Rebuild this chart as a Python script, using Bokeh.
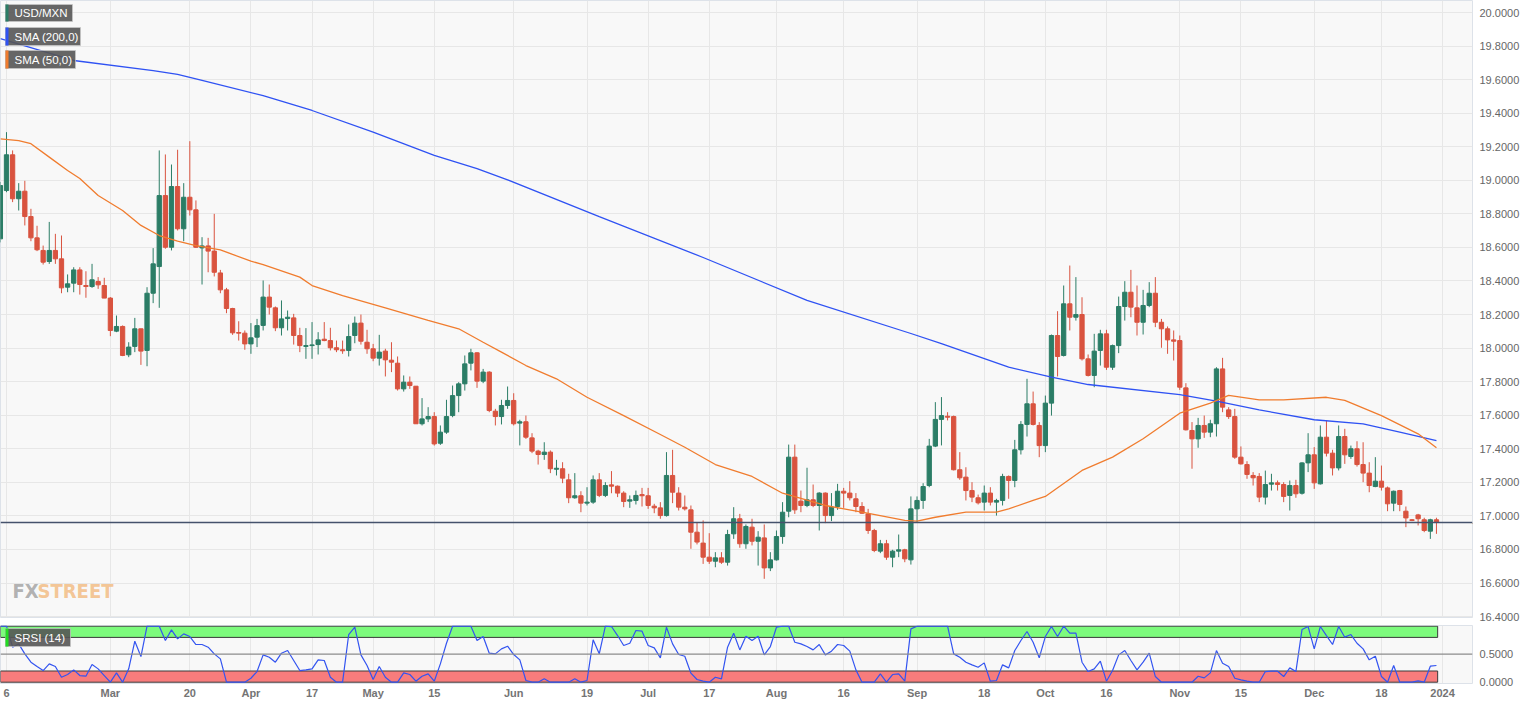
from bokeh.plotting import figure
from bokeh.layouts import column
from bokeh.models import (Range1d, FixedTicker, Span, Label, BoxAnnotation,
                          ColumnDataSource, NumeralTickFormatter)
from bokeh.embed import file_html
from bokeh.resources import INLINE

# ---------------- data (index 0 = Feb 6 2023, one slot per weekday) ----------------
FIRST_INDEX = -1
opens = [
    18.651, 18.939, 19.152, 18.890, 18.935, 18.784, 18.657, 18.582, 18.516, 18.582,
    18.532, 18.363, 18.387, 18.466, 18.373, 18.367, 18.397, 18.373, 18.298, 18.101,
    18.129, 17.960, 18.010, 18.115, 17.986, 18.327, 18.486, 18.909, 18.601, 18.963,
    18.711, 18.899, 18.824, 18.597, 18.609, 18.578, 18.448, 18.347, 18.236, 18.093,
    18.089, 18.025, 18.065, 18.135, 18.304, 18.240, 18.121, 18.176, 18.180, 18.075,
    18.010, 18.015, 18.021, 18.053, 18.045, 18.002, 17.990, 17.986, 18.075, 18.149,
    18.035, 17.996, 17.940, 17.982, 17.928, 17.910, 17.757, 17.797, 17.773, 17.549,
    17.578, 17.592, 17.433, 17.499, 17.598, 17.717, 17.787, 17.910, 17.972, 17.803,
    17.857, 17.624, 17.592, 17.658, 17.688, 17.553, 17.561, 17.465, 17.386, 17.366,
    17.380, 17.278, 17.281, 17.215, 17.108, 17.120, 17.076, 17.082, 17.215, 17.122,
    17.185, 17.177, 17.136, 17.088, 17.092, 17.127, 17.120, 17.058, 17.048, 17.002,
    17.241, 17.136, 17.052, 17.036, 16.903, 16.838, 16.754, 16.730, 16.750, 16.724,
    16.893, 16.983, 16.834, 16.933, 16.849, 16.869, 16.690, 16.738, 16.877, 17.028,
    17.350, 17.088, 17.062, 17.096, 17.062, 17.136, 17.002, 17.056, 17.147, 17.136,
    17.102, 17.056, 17.012, 16.913, 16.790, 16.834, 16.754, 16.790, 16.798, 16.738,
    17.042, 17.092, 17.181, 17.416, 17.575, 17.594, 17.592, 17.275, 17.231, 17.151,
    17.108, 17.082, 17.136, 17.082, 17.092, 17.235, 17.211, 17.394, 17.545, 17.668,
    17.539, 17.419, 17.672, 18.075, 17.956, 18.264, 18.184, 18.200, 17.936, 17.837,
    17.986, 18.085, 17.886, 18.015, 18.248, 18.333, 18.240, 18.154, 18.254, 18.327,
    18.154, 18.115, 18.049, 18.045, 17.763, 17.509, 17.459, 17.539, 17.499, 17.549,
    17.876, 17.632, 17.592, 17.350, 17.306, 17.241, 17.235, 17.112, 17.189, 17.197,
    17.187, 17.122, 17.181, 17.135, 17.316, 17.364, 17.191, 17.469, 17.374, 17.286,
    17.473, 17.354, 17.400, 17.306, 17.255, 17.175, 17.207, 17.167, 17.076, 17.151,
    17.028, 16.977, 17.006, 16.977, 16.909, 16.977,
]
highs = [
    18.990, 19.287, 19.178, 18.983, 18.997, 18.830, 18.729, 18.611, 18.752, 18.681,
    18.671, 18.439, 18.482, 18.482, 18.458, 18.502, 18.423, 18.419, 18.304, 18.194,
    18.135, 18.035, 18.180, 18.115, 18.363, 18.596, 19.178, 19.154, 19.094, 19.182,
    18.983, 19.233, 18.880, 18.661, 18.657, 18.800, 18.466, 18.359, 18.240, 18.160,
    18.105, 18.149, 18.174, 18.403, 18.379, 18.248, 18.284, 18.224, 18.204, 18.121,
    18.119, 18.155, 18.095, 18.155, 18.121, 18.045, 18.045, 18.141, 18.188, 18.200,
    18.109, 18.025, 18.079, 17.996, 18.035, 17.950, 17.837, 17.831, 17.773, 17.702,
    17.648, 17.618, 17.539, 17.692, 17.777, 17.797, 17.956, 17.996, 17.976, 17.876,
    17.862, 17.638, 17.692, 17.771, 17.731, 17.573, 17.598, 17.493, 17.394, 17.439,
    17.390, 17.334, 17.320, 17.251, 17.255, 17.147, 17.171, 17.241, 17.255, 17.201,
    17.267, 17.181, 17.147, 17.122, 17.151, 17.167, 17.167, 17.072, 17.082, 17.380,
    17.394, 17.171, 17.122, 17.062, 16.963, 16.973, 16.897, 16.784, 16.784, 16.917,
    17.052, 17.012, 16.949, 16.983, 16.909, 16.949, 16.784, 16.913, 17.082, 17.425,
    17.425, 17.151, 17.287, 17.187, 17.141, 17.140, 17.136, 17.191, 17.167, 17.207,
    17.136, 17.082, 17.042, 16.923, 16.857, 16.857, 16.798, 16.889, 16.804, 17.116,
    17.116, 17.195, 17.459, 17.678, 17.708, 17.618, 17.598, 17.380, 17.290, 17.201,
    17.127, 17.181, 17.171, 17.102, 17.251, 17.241, 17.453, 17.565, 17.817, 17.741,
    17.559, 17.717, 18.081, 18.220, 18.373, 18.492, 18.423, 18.303, 17.962, 18.085,
    18.109, 18.109, 18.021, 18.307, 18.399, 18.466, 18.373, 18.347, 18.393, 18.423,
    18.174, 18.129, 18.105, 18.075, 17.791, 17.559, 17.584, 17.598, 17.573, 17.886,
    17.942, 17.648, 17.638, 17.414, 17.326, 17.261, 17.255, 17.270, 17.251, 17.211,
    17.201, 17.211, 17.215, 17.320, 17.493, 17.410, 17.539, 17.568, 17.394, 17.539,
    17.519, 17.419, 17.445, 17.439, 17.320, 17.350, 17.300, 17.175, 17.151, 17.155,
    17.056, 16.981, 17.012, 16.989, 16.983, 16.989,
]
lows = [
    18.630, 18.929, 18.870, 18.820, 18.731, 18.637, 18.578, 18.498, 18.502, 18.502,
    18.327, 18.333, 18.333, 18.319, 18.300, 18.359, 18.353, 18.298, 18.071, 18.095,
    17.952, 17.946, 17.976, 17.900, 17.892, 18.268, 18.240, 18.592, 18.582, 18.701,
    18.637, 18.790, 18.597, 18.379, 18.452, 18.427, 18.327, 18.208, 18.079, 18.045,
    17.990, 17.966, 18.006, 18.105, 18.200, 18.101, 18.075, 18.105, 18.021, 17.976,
    17.936, 17.936, 17.962, 18.041, 17.986, 17.976, 17.966, 17.950, 18.029, 18.021,
    17.966, 17.922, 17.896, 17.831, 17.857, 17.747, 17.741, 17.757, 17.549, 17.539,
    17.559, 17.419, 17.423, 17.489, 17.588, 17.618, 17.747, 17.867, 17.763, 17.791,
    17.618, 17.539, 17.545, 17.638, 17.539, 17.420, 17.459, 17.374, 17.306, 17.334,
    17.255, 17.241, 17.195, 17.076, 17.102, 17.022, 17.062, 17.072, 17.112, 17.112,
    17.135, 17.112, 17.052, 17.048, 17.068, 17.056, 17.042, 17.016, 16.983, 16.996,
    17.076, 17.032, 17.032, 16.804, 16.830, 16.714, 16.714, 16.694, 16.714, 16.704,
    16.863, 16.810, 16.804, 16.824, 16.704, 16.625, 16.671, 16.734, 16.834, 16.992,
    17.012, 17.022, 17.052, 17.052, 16.913, 16.957, 16.969, 17.036, 17.048, 17.092,
    17.022, 17.012, 16.893, 16.784, 16.778, 16.738, 16.694, 16.754, 16.724, 16.710,
    16.963, 17.042, 17.171, 17.410, 17.420, 17.569, 17.271, 17.215, 17.092, 17.082,
    17.068, 17.032, 17.062, 17.002, 17.062, 17.102, 17.171, 17.366, 17.473, 17.539,
    17.350, 17.380, 17.598, 17.831, 17.950, 18.105, 18.164, 17.926, 17.831, 17.767,
    17.896, 17.870, 17.870, 17.970, 18.164, 18.184, 18.075, 18.081, 18.244, 18.125,
    18.002, 17.966, 17.926, 17.751, 17.509, 17.281, 17.406, 17.465, 17.469, 17.473,
    17.618, 17.578, 17.340, 17.306, 17.221, 17.181, 17.082, 17.068, 17.151, 17.151,
    17.082, 17.032, 17.108, 17.127, 17.261, 17.161, 17.187, 17.354, 17.241, 17.271,
    17.310, 17.340, 17.294, 17.201, 17.141, 17.171, 17.151, 17.028, 17.028, 17.028,
    16.933, 16.969, 16.943, 16.903, 16.863, 16.893,
]
closes = [
    18.969, 19.152, 18.890, 18.935, 18.784, 18.657, 18.586, 18.512, 18.582, 18.532,
    18.359, 18.383, 18.466, 18.379, 18.367, 18.407, 18.377, 18.298, 18.105, 18.129,
    17.956, 18.006, 18.115, 17.982, 18.327, 18.502, 18.909, 18.601, 18.963, 18.711,
    18.899, 18.824, 18.601, 18.609, 18.578, 18.452, 18.347, 18.236, 18.091, 18.089,
    18.025, 18.061, 18.134, 18.304, 18.244, 18.121, 18.174, 18.184, 18.075, 18.015,
    18.015, 18.019, 18.049, 18.045, 18.002, 17.990, 17.984, 18.069, 18.149, 18.041,
    17.996, 17.940, 17.976, 17.930, 17.916, 17.757, 17.797, 17.777, 17.549, 17.578,
    17.592, 17.429, 17.499, 17.592, 17.717, 17.787, 17.906, 17.972, 17.803, 17.857,
    17.628, 17.592, 17.658, 17.688, 17.549, 17.561, 17.469, 17.386, 17.366, 17.380,
    17.281, 17.284, 17.225, 17.108, 17.120, 17.076, 17.082, 17.215, 17.122, 17.181,
    17.177, 17.136, 17.086, 17.096, 17.122, 17.120, 17.062, 17.048, 17.002, 17.241,
    17.141, 17.052, 17.042, 16.903, 16.844, 16.754, 16.730, 16.750, 16.724, 16.889,
    16.983, 16.834, 16.937, 16.849, 16.873, 16.690, 16.738, 16.877, 17.022, 17.350,
    17.036, 17.062, 17.096, 17.062, 17.136, 17.002, 17.052, 17.147, 17.136, 17.108,
    17.056, 17.016, 16.913, 16.794, 16.834, 16.754, 16.790, 16.798, 16.744, 17.042,
    17.092, 17.175, 17.416, 17.575, 17.598, 17.588, 17.275, 17.227, 17.151, 17.112,
    17.078, 17.136, 17.082, 17.092, 17.235, 17.211, 17.394, 17.545, 17.668, 17.545,
    17.419, 17.672, 18.075, 17.950, 18.264, 18.184, 18.200, 17.936, 17.837, 17.982,
    18.085, 17.886, 18.015, 18.248, 18.333, 18.244, 18.154, 18.254, 18.327, 18.154,
    18.115, 18.049, 18.041, 17.767, 17.513, 17.459, 17.539, 17.499, 17.549, 17.876,
    17.648, 17.592, 17.350, 17.310, 17.247, 17.227, 17.112, 17.187, 17.197, 17.187,
    17.116, 17.181, 17.132, 17.316, 17.364, 17.197, 17.469, 17.374, 17.286, 17.473,
    17.364, 17.400, 17.306, 17.255, 17.181, 17.207, 17.171, 17.072, 17.147, 17.068,
    16.988, 16.973, 16.983, 16.913, 16.977, 16.961,
]
srsi = [
    1.000, 1.000, 0.625, 0.685, 0.506, 0.357, 0.280, 0.208, 0.327, 0.280,
    0.089, 0.137, 0.220, 0.119, 0.107, 0.315, 0.238, 0.119, 0.000, 0.167,
    0.000, 0.238, 0.732, 0.458, 1.000, 1.000, 1.000, 0.744, 0.935, 0.774,
    0.863, 0.815, 0.673, 0.673, 0.625, 0.506, 0.417, 0.000, 0.000, 0.000,
    0.000, 0.071, 0.190, 0.488, 0.446, 0.357, 0.518, 0.565, 0.387, 0.208,
    0.220, 0.238, 0.399, 0.387, 0.089, 0.000, 0.000, 0.851, 0.982, 0.488,
    0.298, 0.048, 0.280, 0.089, 0.000, 0.000, 0.167, 0.137, 0.018, 0.107,
    0.149, 0.018, 0.327, 0.696, 1.000, 1.000, 1.000, 1.000, 0.744, 0.815,
    0.518, 0.506, 0.595, 0.643, 0.494, 0.399, 0.030, 0.000, 0.000, 0.060,
    0.000, 0.000, 0.000, 0.000, 0.060, 0.000, 0.030, 0.756, 0.506, 1.000,
    0.994, 0.833, 0.655, 0.696, 0.923, 0.911, 0.655, 0.613, 0.435, 0.982,
    0.685, 0.494, 0.464, 0.161, 0.048, 0.018, 0.000, 0.089, 0.060, 0.625,
    0.875, 0.577, 0.821, 0.744, 0.821, 0.488, 0.637, 0.982, 1.000, 1.000,
    0.714, 0.685, 0.637, 0.577, 0.673, 0.488, 0.554, 0.673, 0.655, 0.554,
    0.220, 0.000, 0.000, 0.000, 0.149, 0.000, 0.137, 0.149, 0.018, 0.952,
    1.000, 1.000, 1.000, 1.000, 1.000, 1.000, 0.506, 0.446, 0.357, 0.310,
    0.268, 0.345, 0.018, 0.030, 0.310, 0.256, 0.565, 0.744, 0.905, 0.714,
    0.435, 0.815, 0.994, 0.815, 1.000, 0.875, 0.875, 0.357, 0.190, 0.238,
    0.375, 0.018, 0.208, 0.488, 0.565, 0.387, 0.220, 0.357, 0.518, 0.101,
    0.000, 0.000, 0.000, 0.000, 0.000, 0.000, 0.107, 0.077, 0.167, 0.565,
    0.339, 0.280, 0.071, 0.042, 0.018, 0.000, 0.000, 0.190, 0.196, 0.196,
    0.101, 0.256, 0.190, 0.940, 0.994, 0.595, 0.994, 0.833, 0.673, 0.994,
    0.804, 0.851, 0.696, 0.595, 0.399, 0.464, 0.101, 0.000, 0.298, 0.000,
    0.000, 0.000, 0.024, 0.000, 0.286, 0.298,
]
sma200_idx = [-1, 11, 24, 28, 32, 42, 50, 60, 70, 77, 82, 97, 114, 131, 148, 153,
              164, 171, 177, 192, 198, 205, 214, 222, 228, 234]
sma200_val = [19.845, 19.714, 19.654, 19.631, 19.595, 19.505, 19.416, 19.287, 19.148,
              19.069, 19.003, 18.784, 18.540, 18.284, 18.087, 18.027, 17.886, 17.827,
              17.783, 17.723, 17.684, 17.632, 17.573, 17.549, 17.499, 17.449]
sma50_idx = [-1, 2, 4, 7, 10, 12, 15, 19, 22, 25, 28, 31, 35, 37, 40, 42, 48, 50, 55,
             62, 69, 74, 78, 81, 85, 90, 95, 101, 107, 111, 116, 122, 127, 134, 140,
             147, 149, 152, 157, 162, 164, 168, 170, 176, 181, 186, 192, 197, 200, 205,
             209, 216, 219, 225, 231, 234]
sma50_val = [19.247, 19.237, 19.218, 19.138, 19.058, 19.011, 18.909, 18.820, 18.731,
             18.671, 18.637, 18.611, 18.586, 18.558, 18.518, 18.498, 18.423, 18.373,
             18.313, 18.240, 18.165, 18.115, 18.035, 17.976, 17.896, 17.817, 17.707,
             17.598, 17.485, 17.409, 17.306, 17.235, 17.135, 17.062, 17.022, 16.973,
             16.969, 16.992, 17.022, 17.022, 17.042, 17.092, 17.116, 17.271, 17.350,
             17.460, 17.612, 17.672, 17.718, 17.692, 17.692, 17.707, 17.688, 17.598,
             17.489, 17.406]
month_idx = [17, 40, 60, 83, 105, 126, 149, 170, 192, 214, 235]
month_labels = ["Mar", "Apr", "May", "Jun", "Jul", "Aug", "Sep", "Oct", "Nov", "Dec", "2024"]
day_idx = [0, 30, 50, 70, 95, 115, 137, 160, 180, 202, 225]
day_labels = ["6", "20", "17", "15", "19", "17", "16", "18", "16", "15", "18"]
price_ticks = [16.4, 16.6, 16.8, 17.0, 17.2, 17.4, 17.6, 17.8, 18.0, 18.2, 18.4,
               18.6, 18.8, 19.0, 19.2, 19.4, 19.6, 19.8, 20.0]
last_price = 16.96130

# ---------------- styling ----------------
GREEN = "#2b7d66"
RED = "#d9533f"
BLUE = "#2f52f3"
ORANGE = "#f07c2e"
GRID = "#e7e7e7"
NAVY = "#2c3e5c"
FONT = "Liberation Sans"

# page pixel -> data helpers (page has no margin: frame starts at x=0, y=0)
X0, X1 = -0.98, 239.9
FRAME_L, FRAME_R = 0, 1472


def px2x(px):
    return X0 + (px - FRAME_L) * (X1 - X0) / (FRAME_R - FRAME_L)


def px2p(py):
    return 20.0 - (py - 12) / 167.8


P1_H = 625
SF_TOP, SF_BOT = 625, 683
S1 = 1.0 + (625.7 - SF_TOP) / 56.0
S0 = -(SF_BOT - 681.7) / 56.0


def px2s(py):
    return S1 - (py - SF_TOP) * (S1 - S0) / (SF_BOT - SF_TOP)


xr = Range1d(X0, X1)
all_ticks = sorted(month_idx + day_idx)
tick_text = dict(zip(month_idx, month_labels))
tick_text.update(dict(zip(day_idx, day_labels)))

p1 = figure(width=1536, height=P1_H, x_range=xr, y_range=Range1d(px2p(617), px2p(0)),
            x_axis_location=None, y_axis_location="right", output_backend="svg",
            toolbar_location=None, min_border_left=0, min_border_right=64,
            min_border_top=0, min_border_bottom=P1_H - 617,
            background_fill_color="#f8f8f8",
            border_fill_color="white", outline_line_color="#dde2e9")
p1.yaxis.ticker = FixedTicker(ticks=price_ticks)
p1.yaxis.formatter = NumeralTickFormatter(format="0.0000")
p1.yaxis.major_label_text_font_size = "11px"
p1.yaxis.major_label_text_color = "#666666"
p1.yaxis.major_label_text_font = FONT
p1.yaxis.axis_line_color = None
p1.yaxis.major_tick_line_color = None
p1.yaxis.minor_tick_line_color = None
p1.yaxis.major_tick_out = 0
p1.yaxis.major_tick_in = 0
p1.yaxis.major_label_standoff = 7
p1.ygrid.grid_line_color = GRID
p1.xgrid.ticker = FixedTicker(ticks=all_ticks)
p1.xgrid.grid_line_color = GRID

n = len(closes)
idx = list(range(FIRST_INDEX, FIRST_INDEX + n))


def candle_source(sel):
    return ColumnDataSource(dict(
        x=[idx[i] for i in sel],
        hi=[highs[i] for i in sel],
        lo=[lows[i] for i in sel],
        top=[max(opens[i], closes[i]) for i in sel],
        bot=[min(opens[i], closes[i]) for i in sel],
    ))


up = [i for i in range(n) if closes[i] >= opens[i]]
dn = [i for i in range(n) if closes[i] < opens[i]]
for sel, col in ((up, GREEN), (dn, RED)):
    s = candle_source(sel)
    p1.segment(x0="x", y0="lo", x1="x", y1="hi", line_color=col, line_width=1, source=s)
    p1.vbar(x="x", width=0.7, top="top", bottom="bot", fill_color=col,
            line_color=col, line_width=1, source=s)

p1.line(sma200_idx, sma200_val, line_color=BLUE, line_width=1.3)
p1.line(sma50_idx, sma50_val, line_color=ORANGE, line_width=1.3)

p1.add_layout(Span(location=last_price, dimension="width", line_color="#45526c",
                   line_width=1.5))

# legend boxes
for (t, col, y_top, y_bot, x_right) in (("USD/MXN", GREEN, 4, 21, 72),
                                         ("SMA (200,0)", BLUE, 27, 45, 80),
                                         ("SMA (50,0)", ORANGE, 50, 68, 75)):
    p1.add_layout(BoxAnnotation(left=px2x(5), right=px2x(x_right), top=px2p(y_top),
                                bottom=px2p(y_bot), fill_color="#555555", fill_alpha=0.9,
                                line_color="#c8c8c8", line_alpha=0.7))
    p1.add_layout(BoxAnnotation(left=px2x(5), right=px2x(8), top=px2p(y_top),
                                bottom=px2p(y_bot), fill_color=col, fill_alpha=1,
                                line_color=None))
    p1.add_layout(Label(x=px2x(14), y=px2p((y_top + y_bot) / 2), text=t,
                        text_color="white", text_font_size="11.5px", text_font=FONT,
                        text_baseline="middle"))

# watermark
p1.add_layout(Label(x=px2x(12), y=px2p(590), text="FX", text_color="#a8a8a8",
                    text_alpha=0.9, text_font_size="20px", text_font_style="bold",
                    text_font="DejaVu Sans Condensed", text_baseline="middle"))
p1.add_layout(Label(x=px2x(37), y=px2p(590), text="STREET", text_color="#f3bf8a",
                    text_alpha=0.9, text_font_size="20px", text_font_style="bold",
                    text_font="DejaVu Sans Condensed", text_baseline="middle"))

# panel divider handle
p1.add_layout(Label(x=px2x(735), y=px2p(620.5), text="\u2261", text_color="#9a9a9a",
                    text_font_size="8px", text_align="center", text_baseline="middle"))

# last price tag
p1.add_layout(Label(x=px2x(1479), y=last_price, text="\u25C0", text_color=NAVY,
                    text_font_size="10px", text_align="right", text_baseline="middle"))
p1.add_layout(Label(x=px2x(1479), y=last_price, text="16.96130", text_color="white",
                    text_font_size="11px", text_font_style="bold", text_font=FONT,
                    text_baseline="middle", background_fill_color=NAVY,
                    padding=2))

# ---------------- SRSI panel ----------------
p2 = figure(width=1536, height=78, x_range=xr, y_range=Range1d(S0, S1),
            y_axis_location="right", output_backend="svg", toolbar_location=None,
            min_border_left=0, min_border_right=64, min_border_top=0, min_border_bottom=20,
            background_fill_color="#f8f8f8", border_fill_color="white",
            outline_line_color="#dde2e9")
p2.yaxis.ticker = FixedTicker(ticks=[0.0, 0.5])
p2.yaxis.formatter = NumeralTickFormatter(format="0.0000")
p2.yaxis.major_label_text_font_size = "11px"
p2.yaxis.major_label_text_color = "#666666"
p2.yaxis.major_label_text_font = FONT
p2.yaxis.axis_line_color = None
p2.yaxis.major_tick_line_color = None
p2.yaxis.minor_tick_line_color = None
p2.yaxis.major_tick_out = 0
p2.yaxis.major_tick_in = 0
p2.yaxis.major_label_standoff = 7
p2.ygrid.visible = False

p2.xaxis.ticker = FixedTicker(ticks=all_ticks)
p2.xaxis.major_label_overrides = tick_text
p2.xaxis.major_label_text_font_size = "11px"
p2.xaxis.major_label_text_font_style = "bold"
p2.xaxis.major_label_text_color = "#747474"
p2.xaxis.major_label_text_font = FONT
p2.xaxis.axis_line_color = None
p2.xaxis.major_tick_line_color = None
p2.xaxis.minor_tick_line_color = None
p2.xaxis.major_tick_out = 0
p2.xaxis.major_tick_in = 0
p2.xaxis.major_label_standoff = 3
p2.xgrid.ticker = FixedTicker(ticks=all_ticks)
p2.xgrid.grid_line_color = GRID

last_idx = idx[-1]
p2.quad(left=[X0], right=[last_idx + 0.2], bottom=[0.8], top=[1.0],
        fill_color="#7dfb7d", line_color="#3a3a3a", line_width=1)
p2.quad(left=[X0], right=[last_idx + 0.2], bottom=[0.0], top=[0.2],
        fill_color="#f87c7c", line_color="#3a3a3a", line_width=1)
p2.add_layout(Span(location=0.5, dimension="width", line_color="#8c8c8c", line_width=1.2))
p2.line(idx, srsi, line_color="#3354f0", line_width=1.2)

p2.add_layout(BoxAnnotation(left=px2x(5), right=px2x(70), top=px2s(628), bottom=px2s(646),
                            fill_color="#555555", fill_alpha=0.9, line_color="#c8c8c8",
                            line_alpha=0.7))
p2.add_layout(BoxAnnotation(left=px2x(5), right=px2x(8), top=px2s(628), bottom=px2s(646),
                            fill_color="#22dd22", fill_alpha=1, line_color=None))
p2.add_layout(Label(x=px2x(14), y=px2s(637), text="SRSI (14)", text_color="white",
                    text_font_size="11.5px", text_font=FONT, text_baseline="middle"))

layout = column(p1, p2)
open("out.html", "w").write(file_html(layout, INLINE, title="USD/MXN"))
